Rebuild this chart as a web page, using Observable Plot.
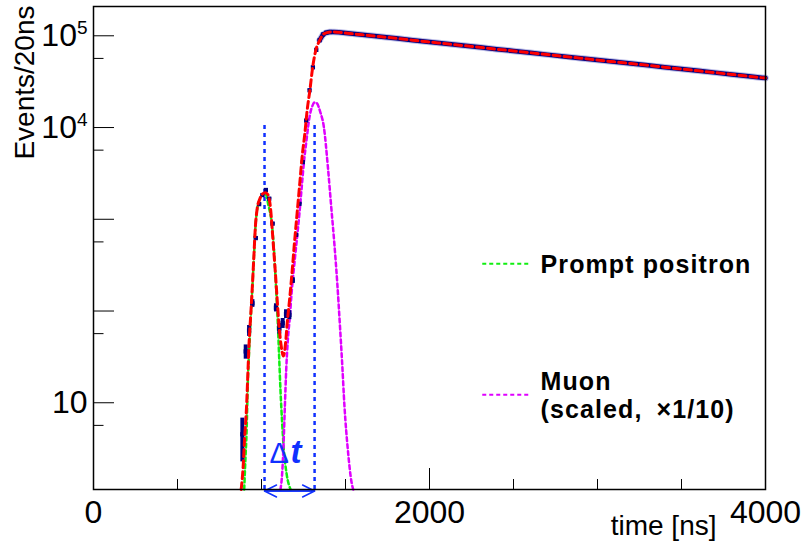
<!DOCTYPE html>
<html><head><meta charset="utf-8">
<script src="https://cdn.jsdelivr.net/npm/d3@7"></script>
<script src="https://cdn.jsdelivr.net/npm/@observablehq/plot@0.6"></script>
<style>html,body{margin:0;padding:0;background:#fff;}</style>
</head><body><div id="chart"></div>
<script>
// ---- data ----
// histogram bins (20 ns) in the prompt / rising region: centre [ns], counts
const binX = [886, 906, 926, 946, 966, 986, 1006, 1026, 1046, 1066, 1086, 1106, 1126, 1146, 1166, 1186, 1206, 1226, 1246, 1266, 1286, 1306, 1326, 1346, 1366, 1386, 1406];
const binCounts = [4, 32, 54, 107, 550, 1290, 1620, 1840, 1480, 790, 96, 57, 65, 82, 80, 190, 596, 1300, 3700, 10500, 22500, 40000, 62000, 79000, 91000, 95500, 97000];
// decay tail (data and total fit coincide)
const tailX = [1430, 1460, 1500, 1600, 1700, 1800, 1900, 2000, 2100, 2200, 2300, 2400, 2500, 2600, 2700, 2800, 2900, 3000, 3100, 3200, 3300, 3400, 3500, 3600, 3700, 3800, 3900, 4000];
const tailCounts = [97000, 96200, 94500, 90500, 86500, 82800, 79000, 75500, 72200, 69000, 66000, 63000, 60300, 57600, 55000, 52600, 50300, 48000, 45900, 43900, 42000, 40100, 38300, 36600, 35000, 33400, 31900, 30500];
// total fit (red) before the tail
const fitX = [879, 891, 899, 911, 919, 925, 935, 944, 954, 964, 974, 990, 1004, 1022, 1037, 1054, 1064, 1073, 1083, 1093, 1103, 1117, 1130, 1143, 1153, 1169, 1183, 1196, 1212, 1228, 1242, 1258, 1272, 1288, 1305, 1321, 1347, 1367, 1390, 1411];
const fitY = [1, 1.8, 3.5, 8, 18.6, 36, 75, 145, 330, 750, 1140, 1470, 1650, 1720, 1650, 1150, 675, 400, 225, 120, 65, 37, 28.5, 39, 65, 127, 247, 483, 1030, 2190, 4270, 7600, 13700, 22500, 40500, 59000, 79000, 91400, 95500, 97000];
// prompt positron component (green)
const promptX = [897, 905, 911, 915, 919, 925, 931, 944, 954, 964, 974, 990, 1004, 1022, 1043, 1058, 1066, 1075, 1083, 1090, 1097, 1105, 1113, 1123, 1133, 1149, 1173];
const promptY = [1, 2.3, 4.1, 8, 15.5, 28.5, 50, 138, 316, 733, 1120, 1450, 1630, 1700, 1210, 880, 650, 390, 210, 120, 65, 28, 12, 5.3, 2.7, 1.5, 1];
// muon component, scaled x1/10 (magenta)
const muonX = [1113, 1123, 1131, 1139, 1147, 1157, 1169, 1179, 1192, 1208, 1224, 1238, 1252, 1268, 1288, 1303, 1316, 1330, 1350, 1371, 1395, 1415, 1435, 1451, 1466, 1480, 1494, 1514, 1536, 1546];
const muonY = [1, 1.5, 3, 8, 20, 43, 77, 138, 247, 483, 942, 1840, 3600, 6460, 12100, 15200, 16600, 16200, 13000, 9000, 3300, 1210, 445, 178, 65, 24, 8, 2.7, 1.2, 1];
// Δt markers (peak positions) and their height
const deltaTEdges = [1018, 1316];
const deltaTTop = 1e4;
// axis ticks
const yMajorTicks = [10, 100, 1000, 10000, 100000];
const yMinorTicks = [5, 50, 500, 5000, 50000];
const yTickLabels = {10: "10", 10000: "10^4", 100000: "10^5"};
const xMajorTicks = [0, 2000, 4000];
const xMinorTicks = [500, 1000, 1500, 2500, 3000, 3500];
const legendLabels = ["Prompt positron", "Muon\n(scaled, \u2009×1/10)"];
const xTitle = "time [ns]";
const yTitle = "Events/20ns";

// ---- build ----
const zip = (xs, ys) => xs.map((x, i) => ({x, y: ys[i]}));
const bins = zip(binX, binCounts);
const tail = zip(tailX, tailCounts);
const dataLine = bins.filter(d => d.x >= 1346).concat(tail);
const fit = zip(fitX, fitY).concat(tail);
const prompt = zip(promptX, promptY);
const muon = zip(muonX, muonY);

const NAVY = "#000080", RED = "#ff0000", GREEN = "#11ee11", MAGENTA = "#e000ff", BLUE = "#1030ff";
const sans = "'Liberation Sans', Arial, Helvetica, sans-serif";

// legend positions (data coordinates inside the frame)
const legX1 = 2314, legX2 = 2601, legTextX = 2661;
const legY = [288, 10.8];
const legColors = [GREEN, MAGENTA];
const legend = legendLabels.map((label, i) => ({label, y: legY[i], color: legColors[i]}));

const svg = Plot.plot({
  width: 807, height: 547,
  marginLeft: 93, marginRight: 42, marginTop: 6, marginBottom: 58,
  style: {fontFamily: sans, background: "white", color: "black"},
  x: {domain: [0, 4000], label: null},
  y: {type: "log", domain: [1, 1.84e5], label: null},
  marks: [
    // data tail (thick navy with soft halo)
    Plot.line(dataLine, {x: "x", y: "y", stroke: "#7f7fd0", strokeWidth: 6.5, strokeOpacity: 0.5}),
    Plot.line(dataLine, {x: "x", y: "y", stroke: NAVY, strokeWidth: 4.5}),
    // Δt vertical lines
    Plot.ruleX(deltaTEdges, {x: d => d, y1: () => 1, y2: () => deltaTTop, stroke: BLUE, strokeWidth: 2.5, strokeDasharray: "4,4"}),
    // components
    Plot.line(prompt, {x: "x", y: "y", stroke: GREEN, strokeWidth: 2.5, strokeDasharray: "4,3", curve: "monotone-x"}),
    Plot.line(muon, {x: "x", y: "y", stroke: MAGENTA, strokeWidth: 2.5, strokeDasharray: "4,3", curve: "monotone-x"}),
    // data points with error bars
    Plot.ruleX(bins, {x: "x", y1: d => Math.max(1, d.y - Math.sqrt(d.y)), y2: d => d.y + Math.sqrt(d.y), stroke: NAVY, strokeWidth: 4}),
    Plot.dot(bins, {x: "x", y: "y", symbol: "square", r: 2.4, fill: NAVY}),
    // total fit
    Plot.line(fit, {x: "x", y: "y", stroke: RED, strokeWidth: 3, strokeDasharray: "7,4", curve: "monotone-x"}),
    // Δt arrow
    Plot.arrow([0], {x1: () => deltaTEdges[0], x2: () => deltaTEdges[1], y1: () => 1, y2: () => 1, dy: 1.5, stroke: BLUE, strokeWidth: 1.5, headLength: 13.4, headAngle: 53}),
    Plot.arrow([0], {x1: () => deltaTEdges[1], x2: () => deltaTEdges[0], y1: () => 1, y2: () => 1, dy: 1.5, stroke: BLUE, strokeWidth: 1.5, headLength: 13.4, headAngle: 53}),
    Plot.text(["Δ"], {x: () => deltaTEdges[0], y: () => 1, text: d => d, dx: 5, dy: -36, textAnchor: "start", fill: BLUE, fontSize: 29, fontFamily: sans}),
    Plot.text(["t"], {x: () => deltaTEdges[0], y: () => 1, text: d => d, dx: 26, dy: -37, textAnchor: "start", fill: BLUE, fontSize: 33, fontWeight: "bold", fontStyle: "italic", fontFamily: sans}),
    // legend
    Plot.link(legend, {x1: () => legX1, x2: () => legX2, y1: "y", y2: "y", stroke: "color", strokeWidth: 2, strokeDasharray: "4,3"}),
    Plot.text(legend, {x: () => legTextX, y: "y", text: "label", textAnchor: "start", fill: "black", fontSize: 25, fontWeight: "bold", lineHeight: 1.13, fontFamily: sans}),
    // axes (ticks point inward, ROOT style)
    Plot.axisY({ticks: yMajorTicks, tickSize: -21, tickPadding: 27, dy: 5, fontSize: 32, tickFormat: d => yTickLabels[d] || "", label: null, stroke: "black"}),
    Plot.axisY({ticks: yMinorTicks, tickSize: -10.5, tickFormat: () => "", label: null, stroke: "black"}),
    Plot.axisX({ticks: xMajorTicks, tickSize: -21, tickPadding: 32, fontSize: 32, tickFormat: d => String(d), label: null, stroke: "black"}),
    Plot.axisX({ticks: xMinorTicks, tickSize: -10, tickFormat: () => "", label: null, stroke: "black"}),
    Plot.frame({stroke: "black", strokeWidth: 1.5}),
    // axis titles
    Plot.text([yTitle], {frameAnchor: "top-left", text: d => d, rotate: -90, textAnchor: "end", lineAnchor: "middle", dx: -68, dy: -1, fontSize: 28, fill: "black"}),
    Plot.text([xTitle], {frameAnchor: "bottom-right", text: d => d, textAnchor: "end", lineAnchor: "middle", dx: -49, dy: 37, fontSize: 28, fill: "black"})
  ]
});

// superscript exponents on the log-axis labels
d3.select(svg).selectAll("text").each(function () {
  const m = /^10\^(\d)$/.exec(this.textContent);
  if (m) {
    this.textContent = "10";
    d3.select(this).append("tspan").attr("dy", -12).attr("font-size", 19).text(m[1]);
  }
});
// legend text: widen letter spacing to match the reference's wide bold face
d3.select(svg).selectAll("g[font-size='25'] text").attr("letter-spacing", 1.1);

document.getElementById("chart").appendChild(svg);
</script>
</body></html>
